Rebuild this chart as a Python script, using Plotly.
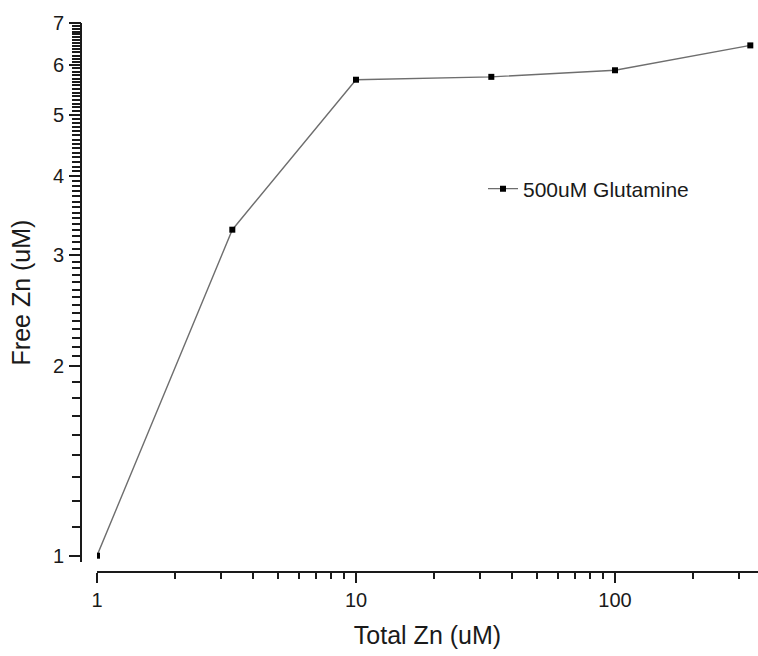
import numpy as np
import plotly.graph_objects as go

# Data
total_zn = [1, 3.33, 10, 33.3, 100, 333]
free_zn = [1.0, 3.29, 5.69, 5.75, 5.89, 6.45]
series_name = "500uM Glutamine"
x_title = "Total Zn (uM)"
y_title = "Free Zn (uM)"
x_tickvals = [1, 10, 100]
y_tickvals = [1, 2, 3, 4, 5, 6, 7]

# minor ticks (style)
x_minor = [m * d for d in (1, 10, 100) for m in range(2, 10) if m * d < 360]
y_minor = [1 + k / 9 for k in range(1, 9)]
for base in range(2, 7):
    y_minor += [base + k / 14 for k in range(1, 14)]
y_minor = [round(v, 4) for v in y_minor]

# all y ticks on one axis: labels only on major values
y_all = sorted(y_tickvals + y_minor)
y_all_text = [str(int(v)) if v in y_tickvals else "" for v in y_all]

W, H = 758, 656
ml, mr, mt, mb = 81, 0, 23, 84
pw = W - ml - mr
ph = H - mt - mb
decade_px = 259

font = "Liberation Sans, Arial, sans-serif"
ink = "#1a1a1a"
x_range = [0, (W - 97) / decade_px]
y_range = [-0.01, float(np.log10(7))]
y_domain = [10 / ph, 1]

fig = go.Figure()
fig.add_trace(go.Scatter(
    x=total_zn, y=free_zn, mode="lines+markers", name=series_name,
    line=dict(color="#6e6e6e", width=1.4),
    marker=dict(symbol="square", size=6, color="black"),
))
# helper trace for the major-tick overlay axis (not shown)
fig.add_trace(go.Scatter(x=total_zn, y=free_zn, yaxis="y2", mode="lines",
                         line=dict(width=0), showlegend=False, hoverinfo="skip"))

fig.update_layout(
    width=W, height=H,
    margin=dict(l=ml, r=mr, t=mt, b=mb),
    plot_bgcolor="white", paper_bgcolor="white",
    font=dict(family=font, color=ink),
    showlegend=True,
    legend=dict(
        x=(483 - ml) / pw, y=(572 - 189) / ph, xanchor="left", yanchor="middle",
        font=dict(size=21, family=font, color=ink),
        bgcolor="rgba(0,0,0,0)",
    ),
    xaxis=dict(
        type="log", range=x_range,
        domain=[(97 - ml) / pw, 1], anchor="free", position=0,
        showline=True, linecolor=ink, linewidth=2,
        showgrid=False, zeroline=False,
        ticks="outside", ticklen=10, tickwidth=2, tickcolor=ink,
        tickmode="array", tickvals=x_tickvals, ticktext=[str(v) for v in x_tickvals],
        tickfont=dict(size=20, family=font),
        minor=dict(tickmode="array", tickvals=x_minor, ticks="outside",
                   ticklen=6, tickwidth=2, tickcolor=ink, showgrid=False),
        title=dict(text=x_title, font=dict(size=25, family=font), standoff=15),
    ),
    yaxis=dict(
        type="log", range=y_range,
        domain=y_domain, anchor="free", position=0,
        showline=True, linecolor=ink, linewidth=2,
        showgrid=False, zeroline=False,
        ticks="outside", ticklen=8, tickwidth=2, tickcolor=ink,
        tickmode="array", tickvals=y_all, ticktext=y_all_text,
        ticklabelstandoff=4,
        tickfont=dict(size=20, family=font),
        title=dict(text=y_title, font=dict(size=25, family=font), standoff=14),
    ),
    yaxis2=dict(
        type="log", range=y_range, overlaying="y",
        anchor="free", position=0, side="left",
        showline=False, showgrid=False, zeroline=False,
        ticks="outside", ticklen=12, tickwidth=2, tickcolor=ink,
        tickmode="array", tickvals=y_tickvals, ticktext=[""] * len(y_tickvals),
    ),
)

fig.write_html("out.html")
